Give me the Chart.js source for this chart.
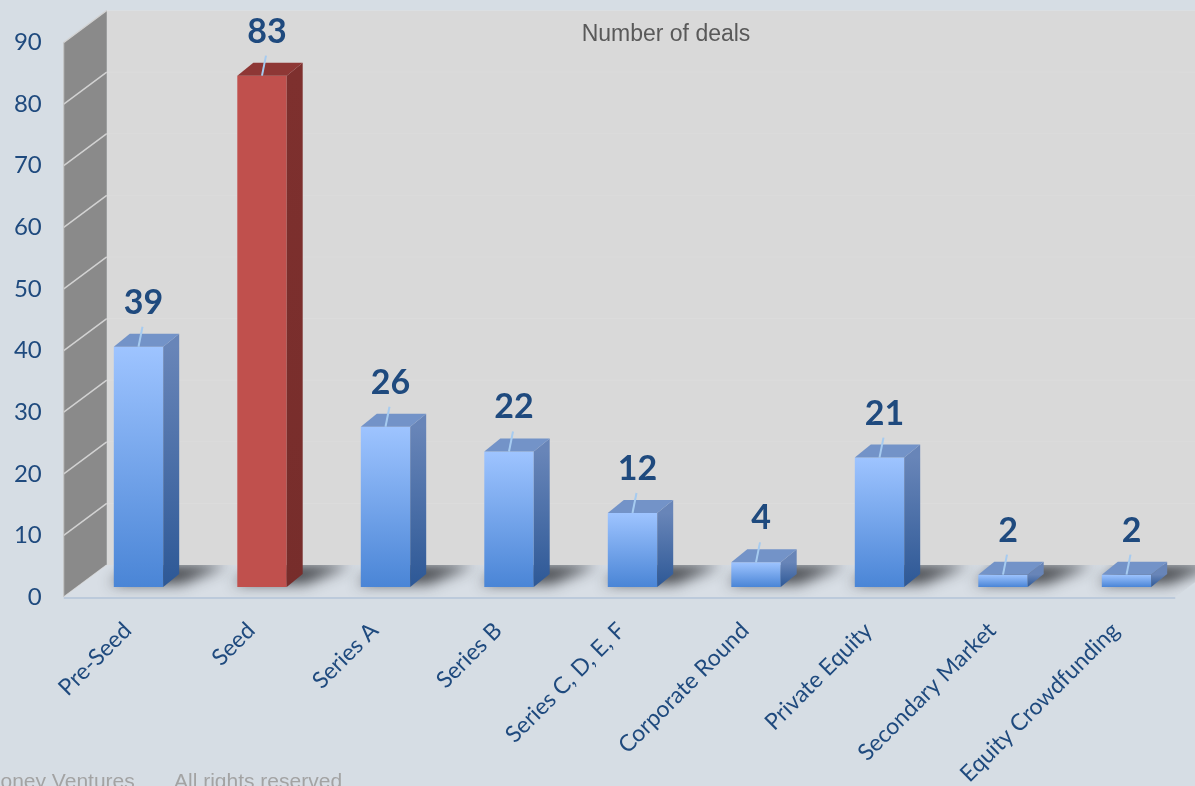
<!DOCTYPE html>
<html>
<head>
<meta charset="utf-8">
<script src="https://cdn.jsdelivr.net/npm/chart.js@4"></script>
<style>
  html, body { margin: 0; padding: 0; background: #d6dde4; }
  #chart { display: block; }
</style>
</head>
<body>
<canvas id="chart" width="1195" height="786"></canvas>
<script>
const categories = [
  "Pre-Seed", "Seed", "Series A", "Series B", "Series C, D, E, F",
  "Corporate Round", "Private Equity", "Secondary Market", "Equity Crowdfunding",
];
const deals = [39, 83, 26, 22, 12, 4, 21, 2, 2];
const yMax = 90;
const yStep = 10;
const chartTitle = "Number of deals";
const highlightCategory = "Seed";
const footerLeft = "Money Ventures";
const footerRight = "All rights reserved";

// fake 3d: offsets from the bar plane (px)
const FRONT = { dx: -13, dy: 10 };
const BACK = { dx: 30, dy: -22 };
const SIDE = { dx: 16, dy: -13 };

const textBlue = "#1f4a7e";
const fontFamily = "Lato, 'Open Sans', sans-serif";

const isHighlight = (i) => categories[i] === highlightCategory;

const frontFill = (ctx) => {
  const chart = ctx.chart;
  if (isHighlight(ctx.dataIndex)) return "#c0504d";
  if (!chart.chartArea) return "#7aa7ec";
  const y = chart.scales.y;
  const top = y.getPixelForValue(deals[ctx.dataIndex]);
  const bottom = y.getPixelForValue(0);
  const g = chart.ctx.createLinearGradient(0, top, 0, bottom);
  g.addColorStop(0, "#9ec4ff");
  g.addColorStop(1, "#4a85d6");
  return g;
};

const scene3d = {
  id: "scene3d",
  beforeDatasetsDraw(chart) {
    const { ctx, chartArea: a, scales } = chart;
    const y = scales.y;
    const y0 = y.getPixelForValue(0);
    const yTop = y.getPixelForValue(yMax);
    ctx.save();

    // back wall
    ctx.fillStyle = "#d9d9d9";
    ctx.fillRect(a.left + BACK.dx, yTop + BACK.dy, chart.width, y0 - yTop);
    ctx.strokeStyle = "rgba(255,255,255,0.09)";
    ctx.lineWidth = 1;
    for (let v = yStep; v <= yMax; v += yStep) {
      const py = y.getPixelForValue(v) + BACK.dy;
      ctx.beginPath();
      ctx.moveTo(a.left + BACK.dx, py);
      ctx.lineTo(chart.width, py);
      ctx.stroke();
    }

    // left side wall
    ctx.fillStyle = "#8a8a8a";
    ctx.beginPath();
    ctx.moveTo(a.left + FRONT.dx, yTop + FRONT.dy);
    ctx.lineTo(a.left + BACK.dx, yTop + BACK.dy);
    ctx.lineTo(a.left + BACK.dx, y0 + BACK.dy);
    ctx.lineTo(a.left + FRONT.dx, y0 + FRONT.dy);
    ctx.closePath();
    ctx.fill();
    ctx.strokeStyle = "#d2d2d2";
    ctx.lineWidth = 1.5;
    for (let v = 0; v <= yMax; v += yStep) {
      const py = y.getPixelForValue(v);
      ctx.beginPath();
      ctx.moveTo(a.left + FRONT.dx, py + FRONT.dy);
      ctx.lineTo(a.left + BACK.dx, py + BACK.dy);
      ctx.stroke();
    }
    ctx.strokeStyle = "#c4c4c4";
    ctx.lineWidth = 1;
    ctx.beginPath();
    ctx.moveTo(a.left + FRONT.dx, y0 + FRONT.dy);
    ctx.lineTo(a.left + FRONT.dx, yTop + FRONT.dy);
    ctx.stroke();

    // floor
    const floor = new Path2D();
    floor.moveTo(a.left + FRONT.dx, y0 + FRONT.dy);
    floor.lineTo(a.right + FRONT.dx, y0 + FRONT.dy);
    floor.lineTo(a.right + BACK.dx, y0 + BACK.dy);
    floor.lineTo(a.left + BACK.dx, y0 + BACK.dy);
    floor.closePath();
    ctx.fillStyle = "#d8dee5";
    ctx.fill(floor);

    // soft bar shadows on the floor
    ctx.save();
    ctx.clip(floor);
    const meta = chart.getDatasetMeta(0);
    const off = 3000;
    meta.data.forEach((bar) => {
      const L = bar.x - bar.width / 2;
      const R = bar.x + bar.width / 2;
      ctx.shadowColor = "rgba(55,58,62,0.9)";
      ctx.shadowBlur = 14;
      ctx.shadowOffsetX = off;
      ctx.fillStyle = "#000";
      ctx.beginPath();
      ctx.moveTo(L - off - 4, y0 - 3);
      ctx.lineTo(R - off + 18, y0 - 3);
      ctx.lineTo(R - off + 18 + BACK.dx + 16, y0 + BACK.dy);
      ctx.lineTo(L - off + BACK.dx - 8, y0 + BACK.dy);
      ctx.closePath();
      ctx.fill();
    });
    ctx.restore();

    ctx.strokeStyle = "#bccadb";
    ctx.lineWidth = 2;
    ctx.beginPath();
    ctx.moveTo(a.left + FRONT.dx, y0 + FRONT.dy + 1);
    ctx.lineTo(a.right + FRONT.dx, y0 + FRONT.dy + 1);
    ctx.stroke();
    ctx.restore();
  },
  afterDatasetsDraw(chart) {
    const { ctx } = chart;
    const meta = chart.getDatasetMeta(0);
    ctx.save();
    meta.data.forEach((bar, i) => {
      const L = bar.x - bar.width / 2;
      const R = bar.x + bar.width / 2;
      const top = bar.y;
      const base = bar.base;
      const red = isHighlight(i);

      // side face
      let g = ctx.createLinearGradient(0, top, 0, base);
      g.addColorStop(0, red ? "#7e302e" : "#6885b8");
      g.addColorStop(1, red ? "#772d2b" : "#2d5896");
      ctx.fillStyle = g;
      ctx.beginPath();
      ctx.moveTo(R, top);
      ctx.lineTo(R + SIDE.dx, top + SIDE.dy);
      ctx.lineTo(R + SIDE.dx, base + SIDE.dy);
      ctx.lineTo(R, base);
      ctx.closePath();
      ctx.fill();

      // top face
      ctx.fillStyle = red ? "#8e3735" : "#7393c8";
      ctx.beginPath();
      ctx.moveTo(L, top);
      ctx.lineTo(L + SIDE.dx, top + SIDE.dy);
      ctx.lineTo(R + SIDE.dx, top + SIDE.dy);
      ctx.lineTo(R, top);
      ctx.closePath();
      ctx.fill();

      // leader line + value label
      ctx.strokeStyle = "#a6cbf0";
      ctx.lineWidth = 2;
      ctx.beginPath();
      ctx.moveTo(bar.x, top);
      ctx.lineTo(bar.x + 4, top - 20);
      ctx.stroke();

      ctx.fillStyle = textBlue;
      ctx.font = `bold 34px ${fontFamily}`;
      ctx.textAlign = "center";
      ctx.textBaseline = "middle";
      ctx.fillText(String(deals[i]), bar.x + 5, top - 44);
    });
    ctx.restore();
  },
  afterDraw(chart) {
    const { ctx } = chart;
    ctx.save();
    ctx.fillStyle = "#595959";
    ctx.font = "23px 'Liberation Sans', Arial, sans-serif";
    ctx.textAlign = "center";
    ctx.textBaseline = "middle";
    ctx.fillText(chartTitle, 666, 35);

    ctx.fillStyle = "#a3a3a3";
    ctx.font = "21px 'Liberation Sans', Arial, sans-serif";
    ctx.textAlign = "left";
    ctx.textBaseline = "alphabetic";
    ctx.fillText(footerLeft, -17, 788);
    ctx.fillText(footerRight, 174, 788);
    ctx.restore();
  },
};

new Chart(document.getElementById("chart"), {
  type: "bar",
  data: {
    labels: categories,
    datasets: [
      {
        label: chartTitle,
        data: deals,
        backgroundColor: frontFill,
        borderWidth: 0,
        barPercentage: 0.4,
        categoryPercentage: 1,
      },
    ],
  },
  options: {
    responsive: false,
    animation: false,
    layout: { padding: { top: 32.5, right: 6.75, left: 0, bottom: 0 } },
    plugins: {
      legend: { display: false },
      tooltip: { enabled: false },
    },
    scales: {
      x: {
        grid: { display: false, drawTicks: false },
        border: { display: false },
        afterFit: (s) => { s.height = 199; s.paddingLeft = 0; s.paddingRight = 0; },
        ticks: {
          color: textBlue,
          font: { family: fontFamily, size: 23 },
          minRotation: 45,
          maxRotation: 45,
          autoSkip: false,
          padding: 30,
          labelOffset: -11,
        },
      },
      y: {
        min: 0,
        max: yMax,
        grid: { display: false, drawTicks: false },
        border: { display: false },
        afterFit: (s) => { s.width = 76.75; s.paddingTop = 0; s.paddingBottom = 0; },
        ticks: {
          stepSize: yStep,
          color: textBlue,
          font: { family: fontFamily, size: 24 },
          padding: 35,
          labelOffset: 10,
        },
      },
    },
  },
  plugins: [scene3d],
});
</script>
</body>
</html>
